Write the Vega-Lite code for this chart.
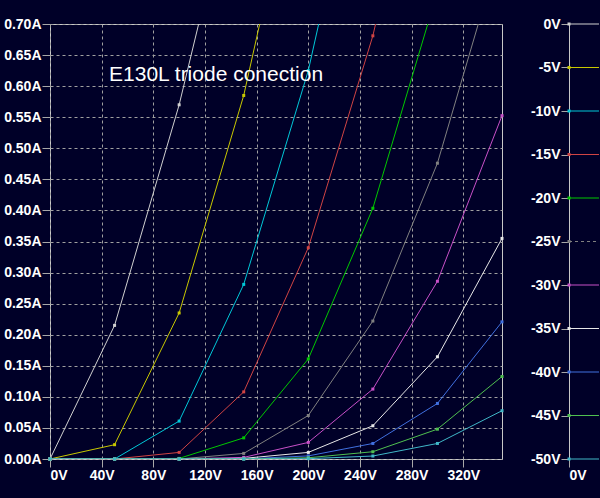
{
  "$schema": "https://vega.github.io/schema/vega-lite/v6.json",
  "background": "#000028",
  "padding": {"left": 3, "top": 16, "right": 2, "bottom": 16},
  "bounds": "flush",
  "spacing": 67,
  "datasets": {
    "curves": [
      {"vg": "0V", "va": 0, "ia": 0}, {"vg": "0V", "va": 50, "ia": 0.215}, {"vg": "0V", "va": 100, "ia": 0.57}, {"vg": "0V", "va": 150, "ia": 1.0},
      {"vg": "-5V", "va": 0, "ia": 0}, {"vg": "-5V", "va": 50, "ia": 0.023}, {"vg": "-5V", "va": 100, "ia": 0.235}, {"vg": "-5V", "va": 150, "ia": 0.585}, {"vg": "-5V", "va": 200, "ia": 1.05},
      {"vg": "-10V", "va": 0, "ia": 0}, {"vg": "-10V", "va": 50, "ia": 0}, {"vg": "-10V", "va": 100, "ia": 0.061}, {"vg": "-10V", "va": 150, "ia": 0.281}, {"vg": "-10V", "va": 200, "ia": 0.625}, {"vg": "-10V", "va": 250, "ia": 1.09},
      {"vg": "-15V", "va": 0, "ia": 0}, {"vg": "-15V", "va": 50, "ia": 0}, {"vg": "-15V", "va": 100, "ia": 0.0106}, {"vg": "-15V", "va": 150, "ia": 0.108}, {"vg": "-15V", "va": 200, "ia": 0.34}, {"vg": "-15V", "va": 250, "ia": 0.681}, {"vg": "-15V", "va": 300, "ia": 1.13},
      {"vg": "-20V", "va": 0, "ia": 0}, {"vg": "-20V", "va": 50, "ia": 0}, {"vg": "-20V", "va": 100, "ia": 0.001}, {"vg": "-20V", "va": 150, "ia": 0.034}, {"vg": "-20V", "va": 200, "ia": 0.161}, {"vg": "-20V", "va": 250, "ia": 0.4035}, {"vg": "-20V", "va": 300, "ia": 0.752},
      {"vg": "-25V", "va": 0, "ia": 0}, {"vg": "-25V", "va": 50, "ia": 0}, {"vg": "-25V", "va": 100, "ia": 0}, {"vg": "-25V", "va": 150, "ia": 0.009}, {"vg": "-25V", "va": 200, "ia": 0.07}, {"vg": "-25V", "va": 250, "ia": 0.222}, {"vg": "-25V", "va": 300, "ia": 0.476}, {"vg": "-25V", "va": 350, "ia": 0.83},
      {"vg": "-30V", "va": 0, "ia": 0}, {"vg": "-30V", "va": 50, "ia": 0}, {"vg": "-30V", "va": 100, "ia": 0}, {"vg": "-30V", "va": 150, "ia": 0.0026}, {"vg": "-30V", "va": 200, "ia": 0.0267}, {"vg": "-30V", "va": 250, "ia": 0.1125}, {"vg": "-30V", "va": 300, "ia": 0.286}, {"vg": "-30V", "va": 350, "ia": 0.5525},
      {"vg": "-35V", "va": 0, "ia": 0}, {"vg": "-35V", "va": 50, "ia": 0}, {"vg": "-35V", "va": 100, "ia": 0}, {"vg": "-35V", "va": 150, "ia": 0.001}, {"vg": "-35V", "va": 200, "ia": 0.0106}, {"vg": "-35V", "va": 250, "ia": 0.0535}, {"vg": "-35V", "va": 300, "ia": 0.1645}, {"vg": "-35V", "va": 350, "ia": 0.355},
      {"vg": "-40V", "va": 0, "ia": 0}, {"vg": "-40V", "va": 50, "ia": 0}, {"vg": "-40V", "va": 100, "ia": 0}, {"vg": "-40V", "va": 150, "ia": 0}, {"vg": "-40V", "va": 200, "ia": 0.005}, {"vg": "-40V", "va": 250, "ia": 0.025}, {"vg": "-40V", "va": 300, "ia": 0.0894}, {"vg": "-40V", "va": 350, "ia": 0.2207},
      {"vg": "-45V", "va": 0, "ia": 0}, {"vg": "-45V", "va": 50, "ia": 0}, {"vg": "-45V", "va": 100, "ia": 0}, {"vg": "-45V", "va": 150, "ia": 0}, {"vg": "-45V", "va": 200, "ia": 0.002}, {"vg": "-45V", "va": 250, "ia": 0.0117}, {"vg": "-45V", "va": 300, "ia": 0.048}, {"vg": "-45V", "va": 350, "ia": 0.1328},
      {"vg": "-50V", "va": 0, "ia": 0}, {"vg": "-50V", "va": 50, "ia": 0}, {"vg": "-50V", "va": 100, "ia": 0}, {"vg": "-50V", "va": 150, "ia": 0}, {"vg": "-50V", "va": 200, "ia": 0.0005}, {"vg": "-50V", "va": 250, "ia": 0.0048}, {"vg": "-50V", "va": 300, "ia": 0.025}, {"vg": "-50V", "va": 350, "ia": 0.0777}
    ],
    "steps": [
      {"vg": "0V", "g": 0, "dashed": "no"}, {"vg": "-5V", "g": -5, "dashed": "no"}, {"vg": "-10V", "g": -10, "dashed": "no"},
      {"vg": "-15V", "g": -15, "dashed": "no"}, {"vg": "-20V", "g": -20, "dashed": "no"}, {"vg": "-25V", "g": -25, "dashed": "yes"},
      {"vg": "-30V", "g": -30, "dashed": "no"}, {"vg": "-35V", "g": -35, "dashed": "no"}, {"vg": "-40V", "g": -40, "dashed": "no"},
      {"vg": "-45V", "g": -45, "dashed": "no"}, {"vg": "-50V", "g": -50, "dashed": "no"}
    ]
  },
  "hconcat": [
    {
      "width": 452,
      "height": 435,
      "view": {"stroke": "#c8c8c8", "strokeWidth": 1},
      "data": {"name": "curves"},
      "encoding": {
        "x": {"field": "va", "type": "quantitative", "scale": {"domain": [0, 350], "nice": false},
              "axis": {"values": [0, 40, 80, 120, 160, 200, 240, 280, 320], "tickCount": 20, "labelExpr": "datum.value + 'V'", "title": null, "grid": true, "domain": false}},
        "y": {"field": "ia", "type": "quantitative", "scale": {"domain": [0, 0.7], "nice": false},
              "axis": {"values": [0, 0.05, 0.1, 0.15, 0.2, 0.25, 0.3, 0.35, 0.4, 0.45, 0.5, 0.55, 0.6, 0.65, 0.7], "tickCount": 30, "labelExpr": "format(datum.value, '.2f') + 'A'", "title": null, "grid": true, "domain": false}},
        "color": {"field": "vg", "type": "nominal",
                  "scale": {"domain": ["0V", "-5V", "-10V", "-15V", "-20V", "-25V", "-30V", "-35V", "-40V", "-45V", "-50V"],
                            "range": ["#d0d0d0", "#c8c800", "#00c8d8", "#d04444", "#00c800", "#808080", "#c850c8", "#e8e8e8", "#4070e0", "#50c050", "#40b8c8"]},
                  "legend": null}
      },
      "layer": [
        {
          "mark": {"type": "line", "strokeWidth": 1, "clip": true}
        },
        {
          "transform": [{"filter": "datum.ia <= 0.7"}],
          "mark": {"type": "point", "shape": "square", "filled": true, "size": 9, "opacity": 1}
        },
        {
          "data": {"values": [{"label": "E130L triode conection", "tx": 45.7, "ty": 0.609}]},
          "mark": {"type": "text", "align": "left", "baseline": "alphabetic", "font": "Liberation Sans", "fontSize": 21, "color": "#ffffff"},
          "encoding": {
            "x": {"field": "tx", "type": "quantitative"},
            "y": {"field": "ty", "type": "quantitative"},
            "text": {"field": "label"},
            "color": {"value": "#ffffff"}
          }
        }
      ]
    },
    {
      "width": 30,
      "height": 435,
      "data": {"name": "steps"},
      "view": {"stroke": null},
      "encoding": {
        "y": {"field": "g", "type": "quantitative", "scale": {"domain": [-50, 0], "nice": false},
              "axis": {"values": [0, -5, -10, -15, -20, -25, -30, -35, -40, -45, -50], "tickCount": 30, "labelExpr": "datum.value + 'V'", "title": null, "grid": false, "domain": true, "domainColor": "#c8c8c8"}},
        "color": {"field": "vg", "type": "nominal", "legend": null,
                  "scale": {"domain": ["0V", "-5V", "-10V", "-15V", "-20V", "-25V", "-30V", "-35V", "-40V", "-45V", "-50V"],
                            "range": ["#d0d0d0", "#c8c800", "#00c8d8", "#d04444", "#00c800", "#808080", "#c850c8", "#e8e8e8", "#4070e0", "#50c050", "#40b8c8"]}}
      },
      "layer": [
        {
          "mark": {"type": "rule", "strokeWidth": 1},
          "encoding": {
            "x": {"datum": 0, "type": "quantitative", "scale": {"domain": [0, 1], "nice": false},
                  "axis": {"values": [0], "labelExpr": "'0V'", "title": null, "grid": false, "domain": false}},
            "x2": {"datum": 1},
            "strokeDash": {"field": "dashed", "type": "nominal", "scale": {"domain": ["no", "yes"], "range": [[1, 0], [3, 3]]}, "legend": null}
          }
        },
        {
          "mark": {"type": "point", "shape": "square", "filled": true, "size": 9, "opacity": 1},
          "encoding": {
            "x": {"datum": 0, "type": "quantitative"}
          }
        }
      ]
    }
  ],
  "config": {
    "view": {"stroke": null},
    "axis": {
      "labelColor": "#ffffff",
      "labelFont": "Liberation Sans",
      "labelFontWeight": "bold",
      "labelFontSize": 14,
      "labelPadding": 1,
      "tickColor": "#a8a8a8",
      "tickSize": 8,
      "gridColor": "#a0a0a0",
      "gridDash": [3, 3],
      "gridOpacity": 1,
      "gridWidth": 1,
      "labelOverlap": false,
      "labelBound": false
    }
  }
}
